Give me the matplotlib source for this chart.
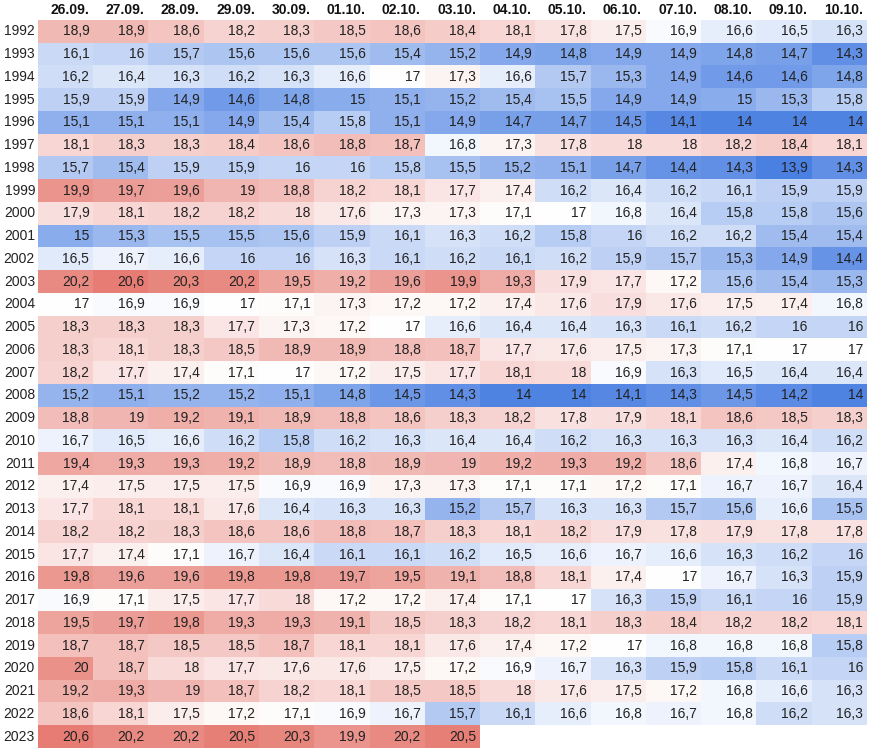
import numpy as np
import matplotlib.pyplot as plt
from matplotlib.colors import LinearSegmentedColormap, TwoSlopeNorm
import matplotlib.transforms as mtransforms

plt.rcParams['font.family'] = ['Liberation Sans', 'DejaVu Sans']

# Data
days = ['26.09.', '27.09.', '28.09.', '29.09.', '30.09.', '01.10.', '02.10.', '03.10.',
        '04.10.', '05.10.', '06.10.', '07.10.', '08.10.', '09.10.', '10.10.']
years = list(range(1992, 2024))

nan = np.nan
y1992 = [18.9, 18.9, 18.6, 18.2, 18.3, 18.5, 18.6, 18.4, 18.1, 17.8, 17.5, 16.9, 16.6, 16.5, 16.3]
y1993 = [16.1, 16.0, 15.7, 15.6, 15.6, 15.6, 15.4, 15.2, 14.9, 14.8, 14.9, 14.9, 14.8, 14.7, 14.3]
y1994 = [16.2, 16.4, 16.3, 16.2, 16.3, 16.6, 17.0, 17.3, 16.6, 15.7, 15.3, 14.9, 14.6, 14.6, 14.8]
y1995 = [15.9, 15.9, 14.9, 14.6, 14.8, 15.0, 15.1, 15.2, 15.4, 15.5, 14.9, 14.9, 15.0, 15.3, 15.8]
y1996 = [15.1, 15.1, 15.1, 14.9, 15.4, 15.8, 15.1, 14.9, 14.7, 14.7, 14.5, 14.1, 14.0, 14.0, 14.0]
y1997 = [18.1, 18.3, 18.3, 18.4, 18.6, 18.8, 18.7, 16.8, 17.3, 17.8, 18.0, 18.0, 18.2, 18.4, 18.1]
y1998 = [15.7, 15.4, 15.9, 15.9, 16.0, 16.0, 15.8, 15.5, 15.2, 15.1, 14.7, 14.4, 14.3, 13.9, 14.3]
y1999 = [19.9, 19.7, 19.6, 19.0, 18.8, 18.2, 18.1, 17.7, 17.4, 16.2, 16.4, 16.2, 16.1, 15.9, 15.9]
y2000 = [17.9, 18.1, 18.2, 18.2, 18.0, 17.6, 17.3, 17.3, 17.1, 17.0, 16.8, 16.4, 15.8, 15.8, 15.6]
y2001 = [15.0, 15.3, 15.5, 15.5, 15.6, 15.9, 16.1, 16.3, 16.2, 15.8, 16.0, 16.2, 16.2, 15.4, 15.4]
y2002 = [16.5, 16.7, 16.6, 16.0, 16.0, 16.3, 16.1, 16.2, 16.1, 16.2, 15.9, 15.7, 15.3, 14.9, 14.4]
y2003 = [20.2, 20.6, 20.3, 20.2, 19.5, 19.2, 19.6, 19.9, 19.3, 17.9, 17.7, 17.2, 15.6, 15.4, 15.3]
y2004 = [17.0, 16.9, 16.9, 17.0, 17.1, 17.3, 17.2, 17.2, 17.4, 17.6, 17.9, 17.6, 17.5, 17.4, 16.8]
y2005 = [18.3, 18.3, 18.3, 17.7, 17.3, 17.2, 17.0, 16.6, 16.4, 16.4, 16.3, 16.1, 16.2, 16.0, 16.0]
y2006 = [18.3, 18.1, 18.3, 18.5, 18.9, 18.9, 18.8, 18.7, 17.7, 17.6, 17.5, 17.3, 17.1, 17.0, 17.0]
y2007 = [18.2, 17.7, 17.4, 17.1, 17.0, 17.2, 17.5, 17.7, 18.1, 18.0, 16.9, 16.3, 16.5, 16.4, 16.4]
y2008 = [15.2, 15.1, 15.2, 15.2, 15.1, 14.8, 14.5, 14.3, 14.0, 14.0, 14.1, 14.3, 14.5, 14.2, 14.0]
y2009 = [18.8, 19.0, 19.2, 19.1, 18.9, 18.8, 18.6, 18.3, 18.2, 17.8, 17.9, 18.1, 18.6, 18.5, 18.3]
y2010 = [16.7, 16.5, 16.6, 16.2, 15.8, 16.2, 16.3, 16.4, 16.4, 16.2, 16.3, 16.3, 16.3, 16.4, 16.2]
y2011 = [19.4, 19.3, 19.3, 19.2, 18.9, 18.8, 18.9, 19.0, 19.2, 19.3, 19.2, 18.6, 17.4, 16.8, 16.7]
y2012 = [17.4, 17.5, 17.5, 17.5, 16.9, 16.9, 17.3, 17.3, 17.1, 17.1, 17.2, 17.1, 16.7, 16.7, 16.4]
y2013 = [17.7, 18.1, 18.1, 17.6, 16.4, 16.3, 16.3, 15.2, 15.7, 16.3, 16.3, 15.7, 15.6, 16.6, 15.5]
y2014 = [18.2, 18.2, 18.3, 18.6, 18.6, 18.8, 18.7, 18.3, 18.1, 18.2, 17.9, 17.8, 17.9, 17.8, 17.8]
y2015 = [17.7, 17.4, 17.1, 16.7, 16.4, 16.1, 16.1, 16.2, 16.5, 16.6, 16.7, 16.6, 16.3, 16.2, 16.0]
y2016 = [19.8, 19.6, 19.6, 19.8, 19.8, 19.7, 19.5, 19.1, 18.8, 18.1, 17.4, 17.0, 16.7, 16.3, 15.9]
y2017 = [16.9, 17.1, 17.5, 17.7, 18.0, 17.2, 17.2, 17.4, 17.1, 17.0, 16.3, 15.9, 16.1, 16.0, 15.9]
y2018 = [19.5, 19.7, 19.8, 19.3, 19.3, 19.1, 18.5, 18.3, 18.2, 18.1, 18.3, 18.4, 18.2, 18.2, 18.1]
y2019 = [18.7, 18.7, 18.5, 18.5, 18.7, 18.1, 18.1, 17.6, 17.4, 17.2, 17.0, 16.8, 16.8, 16.8, 15.8]
y2020 = [20.0, 18.7, 18.0, 17.7, 17.6, 17.6, 17.5, 17.2, 16.9, 16.7, 16.3, 15.9, 15.8, 16.1, 16.0]
y2021 = [19.2, 19.3, 19.0, 18.7, 18.2, 18.1, 18.5, 18.5, 18.0, 17.6, 17.5, 17.2, 16.8, 16.6, 16.3]
y2022 = [18.6, 18.1, 17.5, 17.2, 17.1, 16.9, 16.7, 15.7, 16.1, 16.6, 16.8, 16.7, 16.8, 16.2, 16.3]
y2023 = [20.6, 20.2, 20.2, 20.5, 20.3, 19.9, 20.2, 20.5, nan, nan, nan, nan, nan, nan, nan]

values = np.array([y1992, y1993, y1994, y1995, y1996, y1997, y1998, y1999, y2000,
                   y2001, y2002, y2003, y2004, y2005, y2006, y2007, y2008, y2009,
                   y2010, y2011, y2012, y2013, y2014, y2015, y2016, y2017, y2018,
                   y2019, y2020, y2021, y2022, y2023])
data = np.ma.masked_invalid(values)

cmap = LinearSegmentedColormap.from_list('sheet', ['#4a80e2', '#ffffff', '#e67c73'])
cmap.set_bad('white')
norm = TwoSlopeNorm(vmin=np.nanmin(values), vcenter=17.0, vmax=np.nanmax(values))

fig = plt.figure(figsize=(8.73, 7.55), dpi=100)
ax = fig.add_axes([38 / 873, 7 / 755, 829 / 873, 728 / 755])

nrows, ncols = values.shape
ax.imshow(data, cmap=cmap, norm=norm, aspect='auto', interpolation='nearest',
          extent=(0, ncols, nrows, 0))
ax.set_xlim(0, ncols)
ax.set_ylim(nrows, 0)
ax.set_axis_off()

# cell text, right aligned like a spreadsheet
shift = mtransforms.offset_copy(ax.transData, fig=fig, x=-4, y=0, units='dots')
for i in range(nrows):
    for j in range(ncols):
        v = values[i, j]
        if np.isnan(v):
            continue
        s = f'{v:g}'.replace('.', ',')
        ax.text(j + 1, i + 0.5, s, transform=shift, ha='right', va='center',
                fontsize=10, color='#222222')

# year labels
lshift = mtransforms.offset_copy(ax.transData, fig=fig, x=-3, y=0, units='dots')
for i, yr in enumerate(years):
    ax.text(0, i + 0.5, str(yr), transform=lshift, ha='right', va='center',
            fontsize=10, color='#222222', clip_on=False)

# date headers
for j, d in enumerate(days):
    ax.text(j + 1, -0.45, d, transform=shift, ha='right', va='center',
            fontsize=10, fontweight='bold', color='#111111', clip_on=False)

fig.savefig('out.png', dpi=100, facecolor='white')
